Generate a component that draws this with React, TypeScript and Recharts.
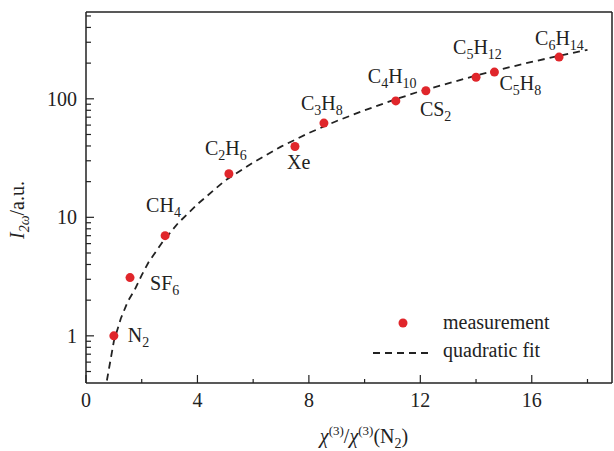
import React from 'react';
import { ScatterChart, Scatter, XAxis, YAxis, Legend } from 'recharts';

// measured gases
const gases = ['N2', 'SF6', 'CH4', 'C2H6', 'Xe', 'C3H8', 'C4H10', 'CS2', 'C5H12', 'C5H8', 'C6H14'];
const chiRatio = [1.0, 1.58, 2.84, 5.13, 7.5, 8.54, 11.12, 12.2, 14.0, 14.66, 16.98];
const intensity = [1.0, 3.1, 7.0, 23.3, 39.6, 62.4, 96, 117, 152, 168, 225];

// dashed fit curve
const fitX = [0.75, 0.85, 1.0, 1.25, 1.5, 1.75, 2, 2.25, 2.75, 3.3, 4, 5, 6, 7, 8, 9, 10, 11, 12, 13, 14, 15, 16, 17, 18];
const fitY = [0.42, 0.57, 0.9, 1.4, 1.95, 2.45, 3.25, 4.2, 6.2, 8.9, 12.9, 20.5, 29, 39.5, 51.5, 65, 80, 97, 116, 135, 157, 180, 205, 231, 259];

const xTicks = [0, 2, 4, 6, 8, 10, 12, 14, 16, 18];
const xLabeled = [0, 4, 8, 12, 16];
const yTicks = [0.5, 0.6, 0.7, 0.8, 0.9, 1, 2, 3, 4, 5, 6, 7, 8, 9, 10, 20, 30, 40, 50, 60, 70, 80, 90, 100, 200, 300, 400, 500];
const yLabeled = [1, 10, 100];

const seriesNames = ['measurement', 'quadratic fit'];

// where each formula label sits relative to its point (left, baseline)
const labelOffset: Record<string, [number, number]> = {
  N2: [14, 6],
  SF6: [20, 12],
  CH4: [-19, -24],
  C2H6: [-24, -19],
  Xe: [-8, 23],
  C3H8: [-23, -13],
  C4H10: [-28, -18],
  CS2: [-6, 25],
  C5H12: [-23, -23],
  C5H8: [5, 18],
  C6H14: [-24, -12],
};

const FONT = '"Liberation Serif", "Times New Roman", serif';
const INK = '#222';
const RED = '#e0262b';

const points = gases.map((g, i) => ({ name: g, x: chiRatio[i], y: intensity[i] }));
const fit = fitX.map((x, i) => ({ x, y: fitY[i] }));

function Formula({ s, x, y }: { s: string; x: number; y: number }) {
  const parts = s.match(/[A-Za-z]+|\d+/g) || [];
  let prevSub = false;
  return (
    <text x={x} y={y} fontFamily={FONT} fontSize={20} fill={INK}>
      {parts.map((p, i) => {
        const isSub = /\d/.test(p);
        const dy = isSub ? 5 : prevSub ? -5 : 0;
        prevSub = isSub;
        return (
          <tspan key={i} dy={dy} fontSize={isSub ? 14 : 20}>
            {p}
          </tspan>
        );
      })}
    </text>
  );
}

function PointShape(props: any) {
  const { cx, cy, payload } = props;
  const off = labelOffset[payload.name] || [8, 0];
  return (
    <g>
      <circle cx={cx} cy={cy} r={4.5} fill={RED} />
      <Formula s={payload.name} x={cx + off[0]} y={cy + off[1]} />
    </g>
  );
}

function YTick(props: any) {
  const { x, y, payload } = props;
  const major = yLabeled.includes(payload.value);
  return (
    <g>
      <line x1={x} x2={x + (major ? 8 : 5)} y1={y} y2={y} stroke={INK} strokeWidth={1.2} />
      {major && (
        <text x={x - 9} y={y + 7} textAnchor="end" fontFamily={FONT} fontSize={20} fill={INK}>
          {payload.value}
        </text>
      )}
    </g>
  );
}

function XTick(props: any) {
  const { x, y, payload } = props;
  const major = xLabeled.includes(payload.value);
  return (
    <g>
      <line x1={x} x2={x} y1={y} y2={y - (major ? 8 : 4)} stroke={INK} strokeWidth={1.2} />
      {major && (
        <text x={x} y={y + 24} textAnchor="middle" fontFamily={FONT} fontSize={20} fill={INK}>
          {payload.value}
        </text>
      )}
    </g>
  );
}

function YTitle() {
  return (
    <text transform="translate(24,210) rotate(-90)" textAnchor="middle" fontFamily={FONT} fontSize={20} fill={INK}>
      <tspan fontStyle="italic">I</tspan>
      <tspan fontStyle="italic" fontSize={14} dy={5}>2ω</tspan>
      <tspan dy={-5}>/a.u.</tspan>
    </text>
  );
}

function XTitle() {
  return (
    <text x={364} y={443} textAnchor="middle" fontFamily={FONT} fontSize={20} fill={INK}>
      <tspan fontStyle="italic">χ</tspan>
      <tspan fontSize={13} dy={-8}>(3)</tspan>
      <tspan dy={8}>/</tspan>
      <tspan fontStyle="italic">χ</tspan>
      <tspan fontSize={13} dy={-8}>(3)</tspan>
      <tspan dy={8}>(N</tspan>
      <tspan fontSize={14} dy={5}>2</tspan>
      <tspan dy={-5}>)</tspan>
    </text>
  );
}

function LegendBox() {
  return (
    <svg width={614} height={451} style={{ position: 'absolute', left: 0, top: 0 }}>
      <circle cx={403} cy={323} r={4.5} fill={RED} />
      <text x={443} y={329} fontFamily={FONT} fontSize={20} fill={INK}>{seriesNames[0]}</text>
      <line x1={373} x2={432} y1={353} y2={353} stroke={INK} strokeWidth={1.8} strokeDasharray="7 5" />
      <text x={443} y={357} fontFamily={FONT} fontSize={20} fill={INK}>{seriesNames[1]}</text>
    </svg>
  );
}

export default function App() {
  return (
    <div style={{ position: 'absolute', left: 0, top: 0, width: 614, height: 451, background: '#fff' }}>
      <ScatterChart width={614} height={451} margin={{ top: 11, right: 1, bottom: 67, left: 85 }}>
        <XAxis
          xAxisId="main"
          type="number"
          dataKey="x"
          domain={[0, 18.88]}
          allowDataOverflow
          ticks={xTicks}
          interval={0}
          tickSize={0}
          tickMargin={0}
          tick={<XTick />}
          tickLine={false}
          height={1}
          axisLine={{ stroke: INK, strokeWidth: 1.5 }}
          label={<XTitle />}
        />
        <XAxis xAxisId="top" orientation="top" type="number" domain={[0, 1]} tick={false} tickLine={false} height={1} axisLine={{ stroke: INK, strokeWidth: 1.5 }} />
        <YAxis
          yAxisId="main"
          type="number"
          dataKey="y"
          scale="log"
          domain={[0.4, 540]}
          allowDataOverflow
          ticks={yTicks}
          interval={0}
          tickSize={0}
          tickMargin={0}
          tick={<YTick />}
          tickLine={false}
          width={1}
          axisLine={{ stroke: INK, strokeWidth: 1.5 }}
          label={<YTitle />}
        />
        <YAxis yAxisId="right" orientation="right" type="number" domain={[0, 1]} tick={false} tickLine={false} width={1} axisLine={{ stroke: INK, strokeWidth: 1.5 }} />
        <Scatter
          name={seriesNames[1]}
          xAxisId="main"
          yAxisId="main"
          data={fit}
          shape={() => <g />}
          line={{ stroke: INK, strokeWidth: 1.8, strokeDasharray: '7 5' }}
          lineType="joint"
          isAnimationActive={false}
        />
        <Scatter
          name={seriesNames[0]}
          xAxisId="main"
          yAxisId="main"
          data={points}
          shape={<PointShape />}
          isAnimationActive={false}
        />
        <Legend
          layout="horizontal"
          verticalAlign="middle"
          align="center"
          wrapperStyle={{ position: 'absolute', left: 0, top: 0, width: 614, height: 451, pointerEvents: 'none' }}
          content={() => <LegendBox />}
        />
      </ScatterChart>
    </div>
  );
}
